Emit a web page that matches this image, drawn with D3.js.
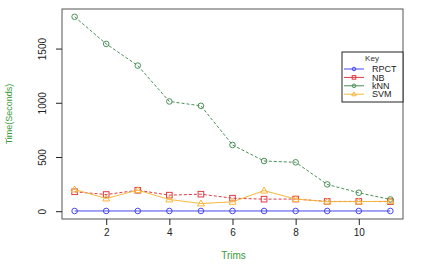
<!DOCTYPE html>
<html>
<head>
<meta charset="utf-8">
<script src="https://cdn.jsdelivr.net/npm/d3@7"></script>
<style>
  body { margin: 0; background: #fff; }
  svg { display: block; font-family: "Liberation Sans", Arial, sans-serif; }
</style>
</head>
<body>
<div id="chart"></div>
<script>
const trims = [1, 2, 3, 4, 5, 6, 7, 8, 9, 10, 11];
const rpct = [2, 2, 2, 2, 2, 2, 2, 2, 2, 2, 2];
const nb = [179, 154, 193, 148, 157, 120, 111, 112, 90, 90, 88];
const knn = [1793, 1543, 1343, 1012, 972, 611, 463, 451, 247, 170, 108];
const svm = [200, 117, 194, 108, 71, 86, 190, 112, 88, 88, 92];
const seriesNames = ["RPCT", "NB", "kNN", "SVM"];
const xTicks = [2, 4, 6, 8, 10];
const yTicks = [0, 500, 1000, 1500];

const width = 435, height = 273;
const margin = { top: 9, right: 32, bottom: 54, left: 62 };
const innerWidth = width - margin.left - margin.right;
const innerHeight = height - margin.top - margin.bottom;

const svg = d3.select('#chart').append('svg')
  .attr('width', width).attr('height', height);

const g = svg.append('g')
  .attr('transform', `translate(${margin.left},${margin.top})`);

// R-style 4% padding on both axes
const x = d3.scaleLinear().domain([0.6, 11.4]).range([0, innerWidth]);
const y = d3.scaleLinear().domain([-72, 1865]).range([innerHeight, 0]);

const styles = {
  RPCT: { data: rpct, color: '#4646f0', dash: null, shape: 'circle' },
  NB:   { data: nb,   color: '#e03a44', dash: '3,2', shape: 'square' },
  kNN:  { data: knn,  color: '#4a8f58', dash: '3,2', shape: 'circle' },
  SVM:  { data: svm,  color: '#f4b83e', dash: null, shape: 'triangle' }
};

// box
g.append('rect')
  .attr('width', innerWidth).attr('height', innerHeight)
  .attr('fill', 'none').attr('stroke', '#555').attr('stroke-width', 1);

// axes
const xAxis = g.append('g')
  .attr('transform', `translate(0,${innerHeight})`)
  .call(d3.axisBottom(x).tickValues(xTicks).tickSize(6).tickPadding(4));
xAxis.select('.domain').remove();
xAxis.selectAll('text').attr('font-size', '10px').attr('fill', '#222');
xAxis.selectAll('line').attr('stroke', '#222');

const yAxis = g.append('g')
  .call(d3.axisLeft(y).tickValues(yTicks).tickFormat(d3.format('d')).tickSize(6));
yAxis.select('.domain').remove();
yAxis.selectAll('line').attr('stroke', '#222');
yAxis.selectAll('.tick text')
  .attr('font-size', '10px').attr('fill', '#222')
  .attr('text-anchor', 'middle')
  .attr('x', null).attr('dy', null)
  .attr('transform', 'translate(-20,0) rotate(-90)')
  .attr('dy', '0.35em');

// axis titles
svg.append('text')
  .attr('transform', `translate(9,${margin.top + innerHeight / 2}) rotate(-90)`)
  .attr('text-anchor', 'middle').attr('dy', '0.35em')
  .attr('font-size', '9px').attr('fill', '#3a9a3a')
  .text('Time(Seconds)');

svg.append('text')
  .attr('x', margin.left + innerWidth / 2 + 1).attr('y', 259)
  .attr('text-anchor', 'middle')
  .attr('font-size', '10px').attr('fill', '#3a9a3a')
  .text('Trims');

// lines and markers
const line = d3.line().x((d, i) => x(trims[i])).y(d => y(d));

function marker(sel, shape, color, cx, cy, r) {
  if (shape === 'circle') {
    sel.append('circle').attr('cx', cx).attr('cy', cy).attr('r', r)
      .attr('fill', 'none').attr('stroke', color).attr('stroke-width', 1);
  } else if (shape === 'square') {
    sel.append('rect').attr('x', cx - r).attr('y', cy - r)
      .attr('width', 2 * r).attr('height', 2 * r)
      .attr('fill', 'none').attr('stroke', color).attr('stroke-width', 1);
  } else {
    const s = r * 1.25;
    sel.append('path')
      .attr('d', `M${cx},${cy - s}L${cx + s},${cy + s * 0.7}L${cx - s},${cy + s * 0.7}Z`)
      .attr('fill', 'none').attr('stroke', color).attr('stroke-width', 1);
  }
}

seriesNames.forEach(name => {
  const s = styles[name];
  g.append('path')
    .datum(s.data)
    .attr('fill', 'none')
    .attr('stroke', s.color)
    .attr('stroke-width', 1)
    .attr('stroke-dasharray', s.dash)
    .attr('d', line);
  const mg = g.append('g');
  s.data.forEach((v, i) => marker(mg, s.shape, s.color, x(trims[i]), y(v), 2.8));
});

// legend
const lg = svg.append('g').attr('transform', 'translate(342,52)');
lg.append('rect').attr('width', 61).attr('height', 50)
  .attr('fill', '#fff').attr('stroke', '#222').attr('stroke-width', 1);
lg.append('text').attr('x', 30).attr('y', 9).attr('text-anchor', 'middle')
  .attr('font-size', '8px').attr('fill', '#333').text('Key');
seriesNames.forEach((name, i) => {
  const s = styles[name];
  const yy = 17 + i * 8.4;
  lg.append('line').attr('x1', 2).attr('x2', 22).attr('y1', yy).attr('y2', yy)
    .attr('stroke', s.color).attr('stroke-width', 1);
  marker(lg, s.shape, s.color, 12, yy, 1.8);
  lg.append('text').attr('x', 30).attr('y', yy).attr('dy', '0.35em')
    .attr('font-size', '9px').attr('fill', '#222').text(name);
});
</script>
</body>
</html>
